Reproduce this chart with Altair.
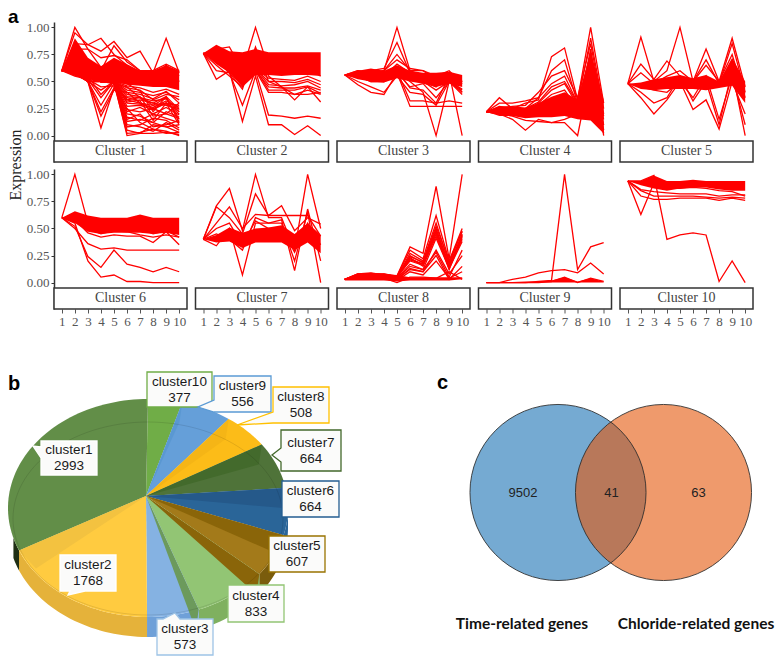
import math
import altair as alt
import pandas as pd

TIME = list(range(1, 11))
c1_hi = [.60, .90, .72, .64, .72, .66, .60, .60, .65, .60]
c1_lo = [.60, .55, .52, .50, .50, .47, .46, .45, .45, .42]
c1_lines = [
    [.6, 1, .8, .63, .7, .6, .6, .55, .6, .5], [.6, .95, .84, .9, .75, .65, .58, .55, .65, .55],
    [.6, .85, .84, .78, .87, .72, .78, .58, .9, .58], [.6, .8, .8, .72, .74, .7, .6, .6, .66, .6],
    [.6, .7, .68, .6, .83, .68, .6, .55, .6, .5], [.6, .6, .5, .07, .44, .25, .12, .06, .04, 0],
    [.6, .57, .5, .18, .42, .4, .3, .25, .3, .2], [.6, .58, .5, .28, .48, .45, .35, .3, .28, .25],
    [.6, .55, .52, .35, .5, .33, .35, .28, .35, .15], [.6, .6, .55, .5, .5, 0, .02, .02, .03, .01],
    [.6, .6, .55, .52, .48, .02, .03, .06, .02, .03], [.6, .58, .55, .5, .5, .05, .02, .1, .08, .03],
    [.6, .6, .55, .55, .5, .1, .08, .04, .12, .05], [.6, .6, .5, .5, .52, .13, .15, .12, .08, .1],
    [.6, .6, .55, .5, .5, .17, .14, .2, .16, .12], [.6, .6, .55, .5, .48, .2, .18, .12, .22, .17],
    [.6, .58, .5, .5, .5, .24, .22, .25, .2, .16], [.6, .6, .55, .5, .5, .27, .28, .24, .3, .22],
    [.6, .6, .52, .5, .5, .3, .29, .26, .32, .26], [.6, .6, .55, .5, .5, .33, .3, .28, .3, .28],
    [.6, .6, .55, .5, .5, .36, .35, .32, .34, .22], [.6, .6, .55, .52, .5, .38, .36, .18, .2, .3],
    [.6, .6, .55, .5, .5, .42, .4, .37, .4, .33], [.6, .6, .55, .5, .5, .44, .42, .33, .38, .36],
    [.6, .6, .55, .5, .5, .46, .44, .4, .43, .38], [.6, .6, .55, .5, .5, .08, .1, .16, .14, .07],
    [.6, .58, .52, .45, .46, .15, .2, .08, .1, .14], [.6, .6, .5, .42, .5, .22, .26, .2, .26, .19],
    [.6, .6, .55, .38, .5, .31, .33, .3, .36, .24], [.6, .6, .55, .5, .5, .4, .38, .34, .41, .3],
    [.6, .57, .5, .22, .44, .35, .32, .14, .3, .1], [.6, .6, .55, .5, .5, .48, .41, .22, .36, .12],
]
c2_hi = [.76, .84, .78, .77, .80, .77, .77, .77, .77, .77]
c2_lo = [.76, .66, .58, .45, .56, .56, .55, .56, .56, .55]
c2_lines = [
    [.76, .52, .6, .13, .55, .1, .1, .01, .09, 0], [.76, .7, .58, .28, .6, .19, .18, .16, .18, .16],
    [.76, .6, .58, .43, .8, .55, .45, .33, .45, .31], [.76, .8, .82, .6, 1, .62, .6, .6, .62, .55],
    [.76, .65, .55, .45, .82, .5, .45, .38, .42, .38], [.76, .7, .6, .5, .6, .4, .4, .38, .38, .4],
    [.76, .72, .62, .5, .62, .42, .42, .42, .45, .39], [.76, .7, .62, .52, .6, .45, .44, .44, .46, .42],
    [.76, .72, .6, .5, .62, .47, .46, .47, .5, .44], [.76, .72, .62, .52, .62, .5, .5, .49, .52, .47],
    [.76, .74, .64, .54, .62, .53, .52, .51, .55, .5],
]
c3_hi = [.56, .60, .62, .60, .65, .60, .58, .58, .59, .56]
c3_lo = [.56, .52, .50, .49, .53, .50, .48, .45, .48, .45]
c3_lines = [
    [.56, .58, .55, .6, 1, .6, .55, .5, .55, .5], [.56, .55, .6, .62, .86, .58, .55, .5, .58, .5],
    [.56, .6, .58, .6, .75, .6, .6, .52, .55, .5], [.56, .47, .4, .38, .58, .5, .4, 0, .5, .4],
    [.56, .5, .45, .4, .55, .55, .5, .45, .58, 0], [.56, .55, .5, .55, .58, .27, .27, .27, .27, .27],
    [.56, .55, .55, .5, .6, .32, .32, .3, .32, .3], [.56, .55, .5, .5, .55, .4, .38, .28, .5, .38],
    [.56, .58, .5, .5, .6, .44, .42, .3, .55, .4], [.56, .56, .52, .52, .58, .45, .48, .35, .5, .43],
    [.56, .6, .58, .6, .7, .62, .6, .55, .6, .48], [.56, .58, .55, .55, .66, .58, .5, .42, .5, .42],
]
c4_hi = [.22, .27, .27, .26, .30, .36, .40, .33, .78, .33]
c4_lo = [.22, .18, .18, .16, .17, .17, .18, .15, .14, .02]
c4_lines = [
    [.22, .35, .25, .3, .33, .73, .81, .33, 1, .3], [.22, .3, .3, .32, .35, .6, .7, .3, .9, .25],
    [.22, .25, .27, .28, .4, .55, .6, .35, .85, .2], [.22, .27, .25, .25, .35, .48, .55, .3, .75, 0],
    [.22, .2, .15, .05, .15, .12, .12, 0, .6, .02], [.22, .2, .18, .14, .13, .12, .15, .2, .5, .1],
    [.22, .25, .22, .2, .3, .42, .48, .28, .65, .15], [.22, .24, .2, .22, .28, .38, .42, .25, .55, .1],
    [.22, .22, .2, .18, .26, .33, .36, .2, .8, .05], [.22, .26, .24, .25, .31, .45, .5, .3, .7, .18],
]
c5_hi = [.48, .49, .52, .54, .56, .53, .56, .50, .72, .50]
c5_lo = [.48, .43, .42, .43, .43, .43, .42, .44, .46, .30]
c5_lines = [
    [.48, .91, .5, .6, 1, .5, .8, .5, .9, .45], [.48, .66, .52, .69, .55, .5, .7, .48, .85, .4],
    [.48, .58, .48, .55, .6, .5, .65, .5, .75, .35], [.48, .35, .2, .33, .5, .24, .33, .06, .5, .2],
    [.48, .4, .3, .35, .55, .32, .5, .1, .6, 0], [.48, .45, .42, .4, .5, .35, .55, .15, .55, .1],
]
c6_hi = [.60, .66, .62, .60, .60, .60, .63, .60, .60, .60]
c6_lo = [.60, .55, .47, .45, .46, .46, .46, .45, .46, .44]
c6_lines = [
    [.6, 1, .55, .5, .5, .5, .5, .45, .48, .42], [.6, .55, .2, .05, .07, .01, .01, 0, 0, 0],
    [.6, .52, .24, .14, .3, .17, .14, .1, .14, .1], [.6, .5, .36, .31, .32, .3, .3, .3, .3, .3],
    [.6, .58, .46, .42, .44, .43, .43, .37, .47, .35], [.6, .6, .5, .45, .48, .47, .44, .42, .44, .42],
]
c7_hi = [.40, .44, .51, .46, .50, .51, .53, .45, .55, .44]
c7_lo = [.40, .37, .38, .32, .37, .37, .37, .30, .37, .27]
c7_lines = [
    [.4, .71, .87, .48, 1, .6, .6, .3, 1, .5], [.4, .7, .6, .45, .82, .62, .71, .48, .6, .54],
    [.4, .55, .7, .5, .63, .62, .62, .62, .62, .43], [.4, .34, .5, .07, .55, .55, .58, .11, .68, .2],
    [.4, .45, .4, .3, .6, .55, .55, .2, .65, 0], [.4, .5, .55, .35, .57, .5, .5, .28, .55, .35],
]
c8_hi = [.03, .08, .09, .08, .07, .05, .05, .05, .05, .05]
c8_lo = [.02, .02, .02, .02, .01, .02, .02, .02, .02, .03]
c8_lines = [
    [.03, .08, .09, .07, .06, .33, .27, .89, .22, 1], [.03, .07, .08, .08, .06, .3, .22, .62, .2, .5],
    [.03, .06, .07, .08, .05, .27, .2, .55, .18, .48], [.03, .07, .08, .06, .05, .25, .18, .5, .15, .45],
    [.03, .08, .07, .07, .06, .22, .17, .47, .13, .44], [.03, .08, .06, .07, .05, .2, .16, .45, .12, .42],
    [.03, .05, .06, .05, .04, .17, .12, .28, .05, .3], [.03, .04, .05, .04, .03, .13, .1, .25, .03, .15],
    [.03, .05, .05, .05, .02, .1, .07, .2, .04, .1], [.03, .04, .03, .04, 0, .05, .05, .04, .1, .03],
    [.03, .07, .08, .07, .05, .24, .19, .52, .2, .47], [.03, .06, .07, .06, .05, .21, .17, .48, .17, .43],
    [.03, .06, .07, .07, .05, .23, .15, .43, .14, .4], [.03, .05, .06, .06, .04, .15, .12, .41, .13, .38],
    [.03, .05, .05, .05, .03, .12, .1, .3, .08, .25],
]
c9_hi = [0, 0, .005, .01, .01, .02, .05, .01, .04, .01]
c9_lo = [0, 0, 0, 0, 0, 0, 0, 0, 0, 0]
c9_lines = [
    [0, 0, 0, 0, .01, .02, 1, .12, .33, .37], [0, 0, .03, .05, .09, .11, .12, .09, .18, .08],
    [0, 0, 0, 0, 0, .01, .05, 0, .04, .01],
]
c10_hi = [.94, .94, .99, .94, .94, .95, .94, .94, .94, .94]
c10_lo = [.94, .90, .87, .85, .87, .88, .88, .86, .85, .85]
c10_lines = [
    [.94, .94, .99, .4, .44, .46, .44, .01, .2, 0], [.94, .63, .92, .87, .87, .88, .87, .85, .84, .8],
    [.94, .8, .77, .77, .78, .78, .78, .76, .78, .76], [.94, .85, .8, .8, .8, .8, .79, .78, .79, .78],
    [.94, .86, .84, .83, .82, .82, .82, .8, .81, .81],
]
clusters = [
    (c1_hi, c1_lo, c1_lines), (c2_hi, c2_lo, c2_lines), (c3_hi, c3_lo, c3_lines),
    (c4_hi, c4_lo, c4_lines), (c5_hi, c5_lo, c5_lines), (c6_hi, c6_lo, c6_lines),
    (c7_hi, c7_lo, c7_lines), (c8_hi, c8_lo, c8_lines), (c9_hi, c9_lo, c9_lines),
    (c10_hi, c10_lo, c10_lines),
]

# Pie: clockwise from the top
pie_names = ["cluster10", "cluster9", "cluster8", "cluster7", "cluster6",
             "cluster5", "cluster4", "cluster3", "cluster2", "cluster1"]
pie_counts = [377, 556, 508, 664, 664, 607, 833, 573, 1768, 2993]
pie_colors = ["#70ad47", "#659fd9", "#fcbc18", "#4f7339", "#2a6598",
              "#a37a1a", "#92c574", "#85b2e2", "#ffcb40", "#628e48"]
side_colors = ["#70ad47", "#659fd9", "#fcbc18", "#4f7339", "#2a6598",
               "#7a5c0c", "#7fb05f", "#6fa0d8", "#e5b23a", "#1f2f14"]
border_colors = ["#70ad47", "#5b9bd5", "#ffc000", "#43682b", "#255e91",
                 "#997300", "#92c574", "#9dc3e6", "#ffffff", "#ffffff"]

venn_values = ["9502", "41", "63"]
venn_names = ["Time-related genes", "Chloride-related genes"]

SERIF = "Liberation Serif"
SANS = "Liberation Sans"
RED = "#ff0000"
YMIN, YMAX = -0.2444, 1.05


def panel(i, left, bottom):
    hi, lo, lines = clusters[i]
    x_axis = alt.Axis(values=TIME, domain=False, grid=False, title=None, tickColor="#555",
                      tickSize=4, labelFont=SERIF, labelFontSize=13, labelColor="#555",
                      labelPadding=2, format="d") if bottom else None
    y_axis = alt.Axis(values=[0, .25, .5, .75, 1], format=".2f", grid=False, title=None,
                      domainColor="#333", domainWidth=1.5, tickColor="#333", tickSize=3,
                      labelFont=SERIF, labelFontSize=13, labelColor="#555",
                      labelPadding=2) if left else None
    X = alt.X("t:Q", scale=alt.Scale(domain=[0.4, 10.6], nice=False, zero=False), axis=x_axis)
    Y = alt.Y("v:Q", scale=alt.Scale(domain=[YMIN, YMAX], nice=False, zero=False), axis=y_axis)
    band = pd.DataFrame({"t": TIME, "v": lo, "v2": hi})
    rows = [{"t": t, "v": v, "id": k} for k, line in enumerate(lines) for t, v in zip(TIME, line)]
    layers = [
        alt.Chart(band).mark_area(color=RED, opacity=1, line=False).encode(x=X, y=Y, y2="v2:Q"),
        alt.Chart(pd.DataFrame(rows)).mark_line(color=RED, strokeWidth=1.3).encode(
            x=X, y=Y, detail="id:N", order="t:Q"),
        alt.Chart(pd.DataFrame([{"t": .4, "t2": 10.6, "v": YMIN, "v2": -.05}])).mark_rect(
            fill="white", stroke="#333", strokeWidth=1.5).encode(x=X, x2="t2:Q", y=Y, y2="v2:Q"),
        alt.Chart(pd.DataFrame([{"t": 5.5, "v": -.147, "s": f"Cluster {i + 1}"}])).mark_text(
            font=SERIF, fontSize=14, color="#444").encode(x=X, y=Y, text="s:N"),
    ]
    if i == 0:
        layers.append(alt.Chart(pd.DataFrame([{"s": "Expression"}])).mark_text(
            font=SERIF, fontSize=16, color="#222", angle=270).encode(
            x=alt.value(-38), y=alt.value(143), text="s:N"))
        layers.append(alt.Chart(pd.DataFrame([{"s": "a"}])).mark_text(
            font=SANS, fontSize=19, fontWeight="bold", color="#000", align="left",
            baseline="alphabetic").encode(x=alt.value(-46), y=alt.value(1), text="s:N"))
    return alt.layer(*layers).properties(width=133, height=140)


# Bottom panel: identity projection, coordinates measured in the page
CX, CY, RX, RY, DEPTH = 148.0, 508.0, 140.0, 109.0, 20.0
APEX = [146.0, 496.0]


def P(deg, d=0.0):
    a = math.radians(deg)
    return [CX + RX * math.sin(a), CY - RY * math.cos(a) + d]


def arc(a, b, d=0.0):
    n = max(2, int(abs(b - a) / 2) + 2)
    return [P(a + (b - a) * k / (n - 1), d) for k in range(n)]


def feature(points, fill, stroke="none"):
    return {"type": "Feature", "properties": {"fill": fill, "stroke": stroke},
            "geometry": {"type": "Polygon", "coordinates": [points + [points[0]]]}}


total = sum(pie_counts)
edges = [0.0]
for c in pie_counts:
    edges.append(edges[-1] + 360.0 * c / total)

faces = []
for k in range(10):
    a, b = max(edges[k], 90), min(edges[k + 1], 254)
    if b > a:
        top = arc(a, b)
        faces.append(feature(top + arc(b, a, DEPTH), side_colors[k]))
for k in range(10):
    faces.append(feature([APEX] + arc(edges[k], edges[k + 1]), pie_colors[k]))
walls = [(1, "#5a98d2"), (2, "#f5b516"), (3, "#436a2c"), (4, "#25598a"),
         (5, "#8a6509"), (6, "#8a6509"), (7, "#6c9a5c")]
for idx, col in walls:
    p = P(edges[idx])
    faces.append(feature([APEX, p, [p[0] - 3, p[1] + DEPTH]], col))
p = P(edges[9])
faces.append(feature([APEX, p, [p[0] + 17, p[1] + 18]], "#f3c240"))

boxes = {
    "cluster10": (147, 372, 212, 407, None),
    "cluster9": (214, 376, 271, 412, ("l", 198, 407, 400, 412)),
    "cluster8": (273, 387, 329, 423, ("l", 237, 425, 412, 423)),
    "cluster7": (281, 430, 341, 471, ("l", 272, 455, 448, 462)),
    "cluster6": (282, 481, 339, 517, None),
    "cluster5": (269, 536, 325, 572, None),
    "cluster4": (228, 585, 284, 622, None),
    "cluster3": (157, 619, 213, 655, ("t", 175, 613, 163, 180)),
    "cluster2": (60, 555, 116, 591, ("b", 68, 595, 70, 85)),
    "cluster1": (41, 441, 97, 475, ("l", 33, 446, 447, 458)),
}
box_feats, label_rows = [], []
for name, count, bc in zip(pie_names, pie_counts, border_colors):
    x0, y0, x1, y1, tail = boxes[name]
    pts = [[x0, y0]]
    if tail and tail[0] == "t":
        pts += [[tail[3], y0], [tail[1], tail[2]], [tail[4], y0]]
    pts += [[x1, y0], [x1, y1]]
    if tail and tail[0] == "b":
        pts += [[tail[4], y1], [tail[1], tail[2]], [tail[3], y1]]
    pts += [[x0, y1]]
    if tail and tail[0] == "l":
        pts += [[x0, tail[4]], [tail[1], tail[2]], [x0, tail[3]]]
    box_feats.append(feature(pts, "#fbfbfa", bc))
    mx, my = (x0 + x1) / 2, (y0 + y1) / 2
    label_rows += [{"x": mx, "y": my - 8, "s": name}, {"x": mx, "y": my + 8, "s": str(count)}]

ring = [[CX + (RX - 5) * math.sin(math.radians(a)), 518.5 - 96.5 * math.cos(math.radians(a))]
        for a in range(0, 361, 3)]
ring_feat = [{"type": "Feature", "properties": {},
              "geometry": {"type": "LineString", "coordinates": ring}}]

PROJ = dict(type="identity", scale=1, translate=[-54, -316])
Lon, Lat = alt.Longitude("x:Q"), alt.Latitude("y:Q")


def gj(feats):
    return alt.Chart(alt.Data(values=feats))


face_layer = gj(faces).mark_geoshape(filled=True, strokeWidth=0, clip=False).encode(
    fill=alt.Fill("properties.fill:N", scale=None)).project(**PROJ)
ring_layer = gj(ring_feat).mark_geoshape(filled=False, stroke="#000", strokeOpacity=0.1,
                                         strokeWidth=1, clip=False).project(**PROJ)
box_layer = gj(box_feats).mark_geoshape(filled=True, strokeWidth=1.3, clip=False).encode(
    fill=alt.Fill("properties.fill:N", scale=None),
    stroke=alt.Stroke("properties.stroke:N", scale=None)).project(**PROJ)
label_layer = alt.Chart(pd.DataFrame(label_rows)).mark_text(
    font=SANS, fontSize=13.5, color="#1a1a1a", clip=False).encode(
    longitude=Lon, latitude=Lat, text="s:N").project(**PROJ)

VENN_SIZE = 31000
venn_l = alt.Chart(pd.DataFrame([{"x": 558, "y": 492.5}])).mark_circle(
    size=VENN_SIZE, color="#75aad2", opacity=1, clip=False).encode(longitude=Lon, latitude=Lat).project(**PROJ)
venn_r = alt.Chart(pd.DataFrame([{"x": 663.5, "y": 492.5}])).mark_circle(
    size=VENN_SIZE, color="#e4570a", opacity=0.6, clip=False).encode(longitude=Lon, latitude=Lat).project(**PROJ)
venn_o = alt.Chart(pd.DataFrame([{"x": 558, "y": 492.5}, {"x": 663.5, "y": 492.5}])).mark_point(
    shape="circle", size=VENN_SIZE, filled=False, stroke="#2b2b2b", strokeWidth=1, opacity=0.85, clip=False
).encode(longitude=Lon, latitude=Lat).project(**PROJ)
venn_text = alt.Chart(pd.DataFrame({"x": [523, 611.5, 698.5], "y": [493, 493, 493], "s": venn_values})).mark_text(
    font=SANS, fontSize=13, color="#222", clip=False).encode(longitude=Lon, latitude=Lat, text="s:N").project(**PROJ)
venn_title = alt.Chart(pd.DataFrame({"x": [522, 696], "y": [624, 624], "s": venn_names})).mark_text(
    font="Lato", fontSize=15.5, fontWeight="bold", color="#111", clip=False).encode(
    longitude=Lon, latitude=Lat, text="s:N").project(**PROJ)
letters = alt.Chart(pd.DataFrame({"x": [8, 437], "y": [390, 389], "s": ["b", "c"]})).mark_text(
    font=SANS, fontSize=20, fontWeight="bold", color="#000", align="left", baseline="alphabetic", clip=False
).encode(longitude=Lon, latitude=Lat, text="s:N").project(**PROJ)

bottom = alt.layer(face_layer, ring_layer, box_layer, label_layer, venn_l, venn_r, venn_o,
                   venn_text, venn_title, letters).properties(width=133, height=324)

cells = [panel(i, i in (0, 5), i >= 5) for i in range(10)] + [bottom]
chart = alt.concat(*cells, columns=5, spacing={"row": 7, "column": 8.5},
                   bounds="flush", align="none").properties(padding=0).configure_view(stroke=None)

chart.save("out.html", embed_options={"renderer": "svg", "actions": False})
